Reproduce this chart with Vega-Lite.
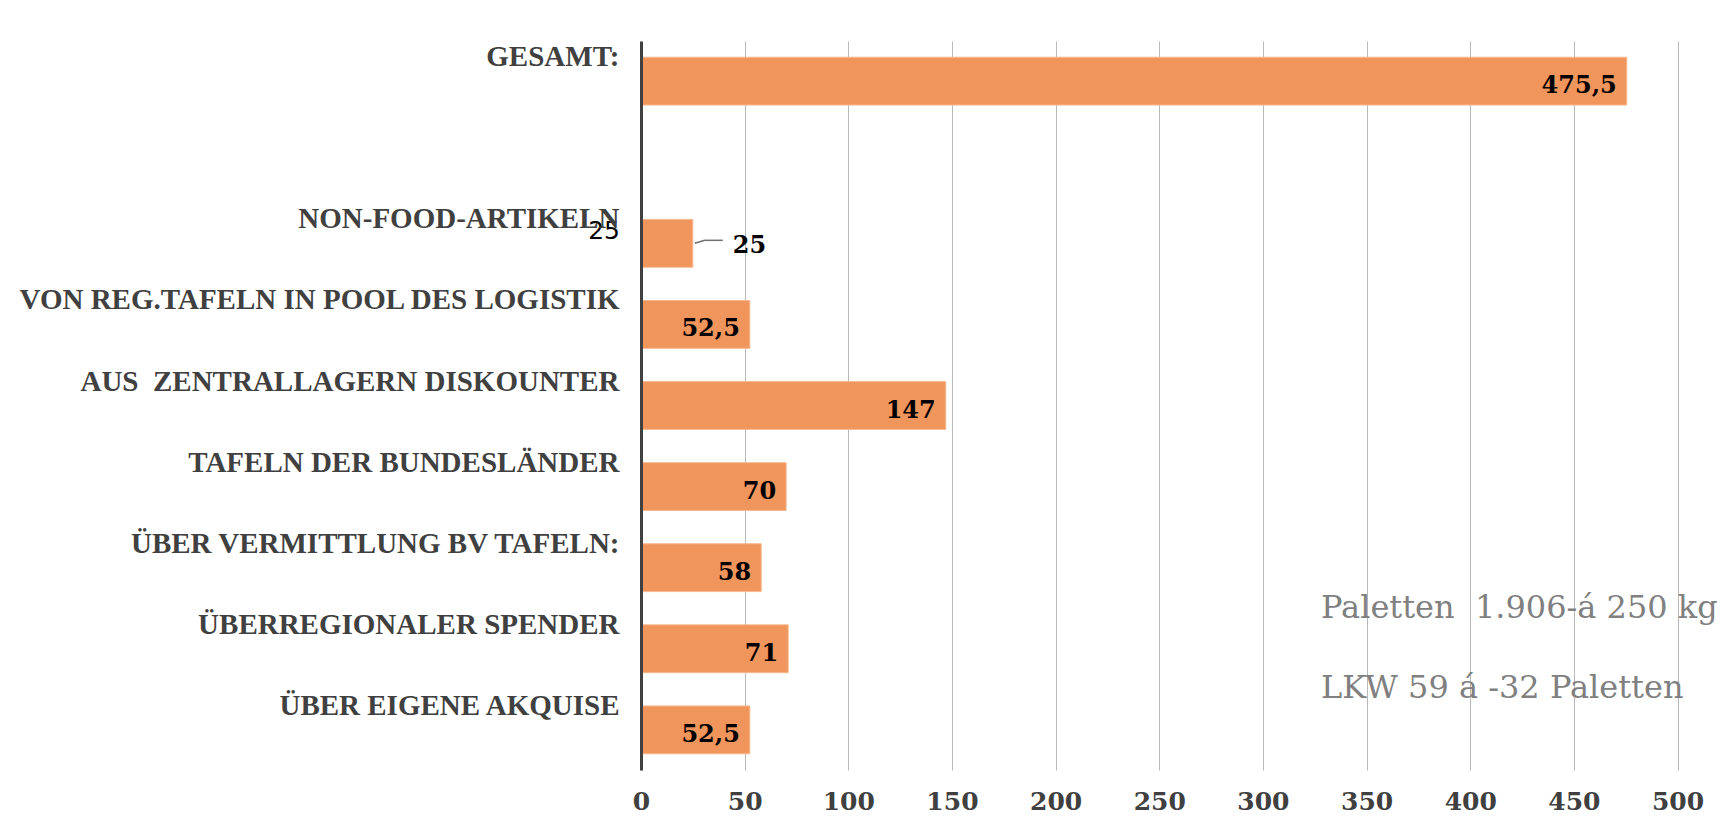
{
  "$schema": "https://vega.github.io/schema/vega-lite/v6.json",
  "width": 1078,
  "height": 729,
  "autosize": {"type": "none"},
  "padding": {"left": 641, "top": 41, "right": 13, "bottom": 49},
  "background": "#ffffff",
  "config": {
    "view": {"stroke": null},
    "locale": {"number": {"decimal": ",", "thousands": ".", "grouping": [3], "currency": ["", " €"]}}
  },
  "datasets": {
    "bars": [
      {"cat": "GESAMT:", "v": 475.5},
      {"cat": "NON-FOOD-ARTIKELN", "v": 25},
      {"cat": "VON REG.TAFELN IN POOL DES LOGISTIK", "v": 52.5},
      {"cat": "AUS \u00a0ZENTRALLAGERN DISKOUNTER", "v": 147},
      {"cat": "TAFELN DER BUNDESLÄNDER", "v": 70},
      {"cat": "ÜBER VERMITTLUNG BV TAFELN:", "v": 58},
      {"cat": "ÜBERREGIONALER SPENDER", "v": 71},
      {"cat": "ÜBER EIGENE AKQUISE", "v": 52.5}
    ],
    "notes": [
      {"cat": "ÜBERREGIONALER SPENDER", "x": 328, "note": "Paletten \u00a01.906-á 250 kg\nLKW 59 á -32 Paletten"}
    ],
    "stray": [
      {"cat": "NON-FOOD-ARTIKELN", "x": 0, "t": "25"}
    ]
  },
  "encoding": {
    "y": {
      "field": "cat", "type": "nominal",
      "scale": {
        "domain": ["GESAMT:", " ", "NON-FOOD-ARTIKELN", "VON REG.TAFELN IN POOL DES LOGISTIK", "AUS \u00a0ZENTRALLAGERN DISKOUNTER", "TAFELN DER BUNDESLÄNDER", "ÜBER VERMITTLUNG BV TAFELN:", "ÜBERREGIONALER SPENDER", "ÜBER EIGENE AKQUISE"],
        "paddingInner": 0.41, "paddingOuter": 0.2
      },
      "axis": {
        "title": null, "ticks": false,
        "domain": true, "domainColor": "#404040", "domainWidth": 3,
        "labelFont": "Liberation Serif", "labelFontWeight": "bold", "labelFontSize": 29,
        "labelColor": "#404040", "labelPadding": 22, "labelLimit": 0,
        "labelBaseline": "alphabetic", "labelOffset": -15, "zindex": 1
      }
    }
  },
  "layer": [
    {
      "data": {"name": "bars"},
      "mark": {"type": "bar", "color": "#F0955B", "stroke": "#F6B98F", "strokeWidth": 1},
      "encoding": {
        "x": {
          "field": "v", "type": "quantitative",
          "scale": {"domain": [0, 520], "nice": false, "zero": true},
          "axis": {
            "title": null, "values": [0, 50, 100, 150, 200, 250, 300, 350, 400, 450, 500],
            "domain": false, "ticks": false, "grid": true, "gridColor": "#B8B8B8", "gridWidth": 1,
            "labelFont": "DejaVu Serif", "labelFontWeight": "bold", "labelFontSize": 25,
            "labelColor": "#404040", "labelPadding": 19, "labelFlush": false
          }
        }
      }
    },
    {
      "data": {"name": "bars"},
      "transform": [{"filter": "datum.cat !== 'NON-FOOD-ARTIKELN'"}],
      "mark": {"type": "text", "align": "right", "baseline": "middle", "dx": -10, "dy": 5,
               "font": "DejaVu Serif", "fontWeight": "bold", "fontSize": 24, "color": "#000000"},
      "encoding": {
        "x": {"field": "v", "type": "quantitative"},
        "text": {"field": "v", "type": "quantitative", "format": ".1~f"}
      }
    },
    {
      "data": {"name": "bars"},
      "transform": [{"filter": "datum.cat === 'NON-FOOD-ARTIKELN'"}],
      "mark": {"type": "text", "align": "left", "baseline": "middle", "dx": 40, "dy": 3,
               "font": "DejaVu Serif", "fontWeight": "bold", "fontSize": 24, "color": "#000000"},
      "encoding": {
        "x": {"field": "v", "type": "quantitative"},
        "text": {"field": "v", "type": "quantitative", "format": ".1~f"}
      }
    },
    {
      "data": {"name": "bars"},
      "transform": [{"filter": "datum.cat === 'NON-FOOD-ARTIKELN'"}],
      "mark": {"type": "rule", "color": "#707070", "strokeWidth": 1.5, "xOffset": 12, "x2Offset": 30, "yOffset": -3},
      "encoding": {
        "x": {"field": "v", "type": "quantitative"},
        "x2": {"field": "v"}
      }
    },
    {
      "data": {"name": "bars"},
      "transform": [{"filter": "datum.cat === 'NON-FOOD-ARTIKELN'"}],
      "mark": {"type": "rule", "color": "#707070", "strokeWidth": 1.5, "xOffset": 2, "x2Offset": 12, "yOffset": 0, "y2Offset": -3},
      "encoding": {
        "x": {"field": "v", "type": "quantitative"},
        "x2": {"field": "v"},
        "y2": {"field": "cat"}
      }
    },
    {
      "data": {"name": "stray"},
      "mark": {"type": "text", "align": "right", "baseline": "middle", "dx": -21, "dy": -12,
               "font": "DejaVu Sans", "fontSize": 25, "color": "#000000"},
      "encoding": {
        "x": {"field": "x", "type": "quantitative"},
        "text": {"field": "t"}
      }
    },
    {
      "data": {"name": "notes"},
      "mark": {"type": "text", "align": "left", "baseline": "alphabetic", "dy": -31, "lineBreak": "\n", "lineHeight": 80,
               "font": "DejaVu Serif", "fontSize": 32, "color": "#808080"},
      "encoding": {
        "x": {"field": "x", "type": "quantitative"},
        "text": {"field": "note"}
      }
    }
  ]
}
